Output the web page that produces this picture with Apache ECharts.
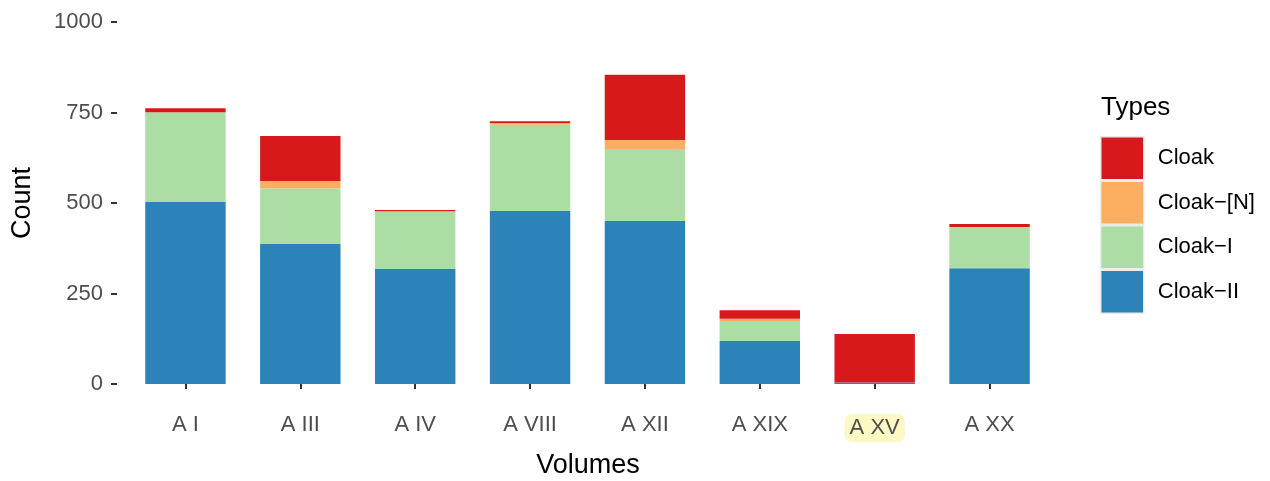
<!DOCTYPE html>
<html>
<head>
<meta charset="utf-8">
<script src="https://cdn.jsdelivr.net/npm/echarts@6/dist/echarts.min.js"></script>
<style>
html,body{margin:0;padding:0;background:#fff;}
#chart{width:1270px;height:481px;}
</style>
</head>
<body>
<div id="chart"></div>
<script>
const categories = ['A I', 'A III', 'A IV', 'A VIII', 'A XII', 'A XIX', 'A XV', 'A XX'];
const cloakII = [503, 387, 318, 478, 450, 119, 4, 320];
const cloakI = [248, 154, 159, 238, 199, 55, 0, 112];
const cloakN = [0, 20, 0, 5, 25, 6, 0, 2];
const cloak = [11, 124, 4, 5, 180, 24, 134, 8];
const yTicks = [0, 250, 500, 750, 1000];
const highlighted = 'A XV';

const seriesNames = ['Cloak\u2212II', 'Cloak\u2212I', 'Cloak\u2212[N]', 'Cloak'];
const seriesData = [cloakII, cloakI, cloakN, cloak];
const colors = ['#2b83ba', '#abdda4', '#fdae61', '#d7191c'];

const font = 'Liberation Sans, Arial, Helvetica, sans-serif';
const chart = echarts.init(document.getElementById('chart'));

chart.setOption({
  backgroundColor: '#ffffff',
  animation: false,
  grid: { left: 128, width: 919, top: 22, bottom: 97, containLabel: false },
  xAxis: {
    type: 'category',
    data: categories,
    offset: 18,
    axisLine: { show: false },
    axisTick: { show: true, alignWithLabel: true, length: 5, lineStyle: { color: '#333333', width: 2 } },
    axisLabel: {
      margin: 12,
      fontFamily: font,
      fontSize: 22,
      color: '#4d4d4d',
      formatter: function (v) { return v === highlighted ? '{hl|' + v + '}' : v; },
      rich: {
        hl: {
          fontFamily: font,
          fontSize: 22,
          color: '#4d4d4d',
          backgroundColor: '#fef8c4',
          borderRadius: 7,
          padding: [3, 5, 3, 5]
        }
      }
    },
    splitLine: { show: false }
  },
  yAxis: {
    type: 'value',
    min: yTicks[0],
    max: yTicks[yTicks.length - 1],
    interval: yTicks[1] - yTicks[0],
    offset: 11,
    axisLine: { show: false },
    axisTick: { show: true, length: 6, lineStyle: { color: '#333333', width: 2 } },
    axisLabel: { margin: 14, fontFamily: font, fontSize: 22, color: '#4d4d4d', formatter: function (v) { return String(v); } },
    splitLine: { show: false }
  },
  legend: {
    orient: 'vertical',
    left: 1100,
    top: 136,
    padding: 0,
    itemWidth: 43,
    itemHeight: 43,
    itemGap: 0,
    icon: 'rect',
    data: ['Cloak', 'Cloak\u2212[N]', 'Cloak\u2212I', 'Cloak\u2212II'],
    itemStyle: { borderColor: '#ebebeb', borderWidth: 1.5 },
    textStyle: { fontFamily: font, fontSize: 22, color: '#000000', padding: [0, 0, 0, 9] }
  },
  graphic: [
    { type: 'text', left: 1101, top: 95, style: { text: 'Types', font: '26px ' + font, fill: '#000000' } },
    { type: 'text', x: 23, y: 203, rotation: Math.PI / 2, style: { text: 'Count', font: '27px ' + font, fill: '#000000', textAlign: 'center', textVerticalAlign: 'middle' } },
    { type: 'text', x: 588, y: 466, style: { text: 'Volumes', font: '27px ' + font, fill: '#000000', textAlign: 'center', textVerticalAlign: 'middle' } }
  ],
  series: seriesNames.map(function (name, i) {
    return {
      name: name,
      type: 'bar',
      stack: 'total',
      barWidth: '70%',
      data: seriesData[i],
      itemStyle: { color: colors[i] }
    };
  })
});
</script>
</body>
</html>
